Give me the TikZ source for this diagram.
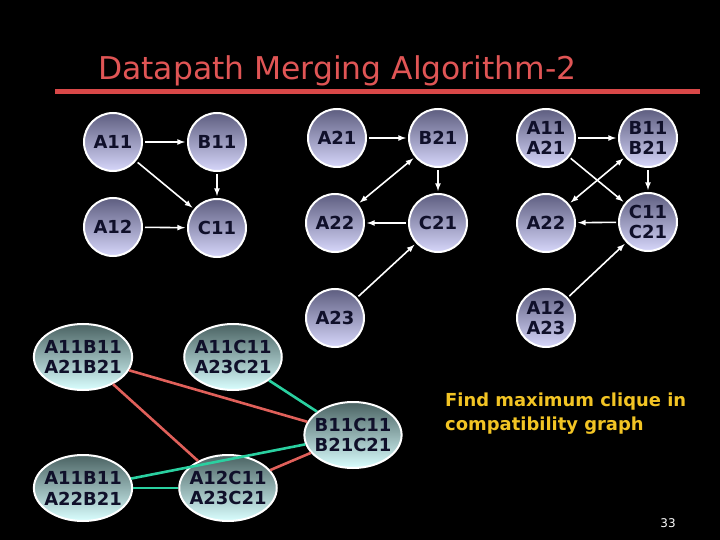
\documentclass[tikz,border=0pt]{standalone}
\usepackage{fontspec}
\setmainfont{DejaVu Sans}
\usepackage{tikz}
\usetikzlibrary{positioning,shapes.geometric}
\usepackage{xcolor}
\definecolor{titlered}{HTML}{E05555}
\definecolor{ruleRed}{HTML}{D94848}
\definecolor{opTop}{HTML}{5E5E80}
\definecolor{opBot}{HTML}{D6D6FA}
\definecolor{pairTop}{HTML}{4A6262}
\definecolor{pairBot}{HTML}{DAFFFF}
\definecolor{nodeInk}{HTML}{10102A}
\definecolor{clashRed}{HTML}{E0605A}
\definecolor{okGreen}{HTML}{2AD0A0}
\definecolor{noteYellow}{HTML}{F2C424}
\newcommand{\opfont}{\fontsize{18}{21}\selectfont\bfseries}

\begin{document}
\begin{tikzpicture}[x=1bp, y=-1bp, >=latex,
    op/.style={circle, draw=white, line width=2bp, top color=opTop,
      bottom color=opBot, minimum size=58bp, inner sep=0pt,
      font=\opfont, text=nodeInk, align=center},
    pair/.style={ellipse, draw=white, line width=2bp, top color=pairTop,
      bottom color=pairBot, minimum height=66bp, inner xsep=-4bp,
      inner ysep=0pt, font=\opfont, text=nodeInk, align=center},
    dep/.style={->, white, line width=1.6bp, shorten >=2bp, shorten <=2bp},
    clash/.style={clashRed, line width=2.6bp},
    okedge/.style={okGreen, line width=2.6bp}]
  % Background and frame
  \useasboundingbox (0,0) rectangle (720,540);
  \fill[black] (0,0) rectangle (720,540);
  \node[anchor=base west, text=titlered, font=\fontsize{31.5}{36}\selectfont,
    inner sep=0pt] (title) at (98,80) {Datapath Merging Algorithm-2};
  \coordinate (ruleL) at (55,92);
  \coordinate (ruleR) at (700,92);
  \draw[ruleRed, line width=5bp] (ruleL) -- (ruleR);

  % Datapath 1
  \node[op] (a11) at (113,142) {A11};
  \node[op] (b11) at (217,142) {B11};
  \node[op] (a12) at (113,227) {A12};
  \node[op] (c11) at (217,228) {C11};
  \draw[dep] (a11) -- (b11);
  \draw[dep] (a11) -- (c11);
  \draw[dep] (b11) -- (c11);
  \draw[dep] (a12) -- (c11);

  % Datapath 2
  \node[op] (a21) at (337,138) {A21};
  \node[op] (b21) at (438,138) {B21};
  \node[op] (a22) at (335,223) {A22};
  \node[op] (c21) at (438,223) {C21};
  \node[op] (a23) at (335,318) {A23};
  \draw[dep] (a21) -- (b21);
  \draw[dep, <->] (a22) -- (b21);
  \draw[dep] (b21) -- (c21);
  \draw[dep] (c21) -- (a22);
  \draw[dep] (a23) -- (c21);

  % Merged datapath
  \node[op] (aa) at (546,138) {A11\\A21};
  \node[op] (bb) at (648,138) {B11\\B21};
  \node[op] (a22m) at (546,223) {A22};
  \node[op] (cc) at (648,222) {C11\\C21};
  \node[op] (aa2) at (546,318) {A12\\A23};
  \draw[dep] (aa) -- (bb);
  \draw[dep] (aa) -- (cc);
  \draw[dep, <->] (a22m) -- (bb);
  \draw[dep] (bb) -- (cc);
  \draw[dep] (cc) -- (a22m);
  \draw[dep] (aa2) -- (cc);

  % Compatibility graph
  \node[pair] (ab1) at (83,357) {A11B11\\A21B21};
  \node[pair] (ac1) at (233,357) {A11C11\\A23C21};
  \node[pair] (bc) at (353,435) {B11C11\\B21C21};
  \node[pair] (ab2) at (83,488) {A11B11\\A22B21};
  \node[pair] (ac2) at (228,488) {A12C11\\A23C21};
  \draw[clash] (ab1) -- (bc);
  \draw[clash] (ab1) -- (ac2);
  \draw[clash] (ac2) -- (bc);
  \draw[okedge] (ac1) -- (bc);
  \draw[okedge] (ab2) -- (bc);
  \draw[okedge] (ab2) -- (ac2);

  \node[anchor=base west, text=noteYellow, align=left, inner sep=0pt,
    font=\fontsize{18}{24}\selectfont\bfseries] (note) at (445,430)
    {Find maximum clique in\\compatibility graph};
  \node[text=white, font=\fontsize{12}{14}\selectfont] (page) at (668,523) {33};
\end{tikzpicture}
\end{document}
